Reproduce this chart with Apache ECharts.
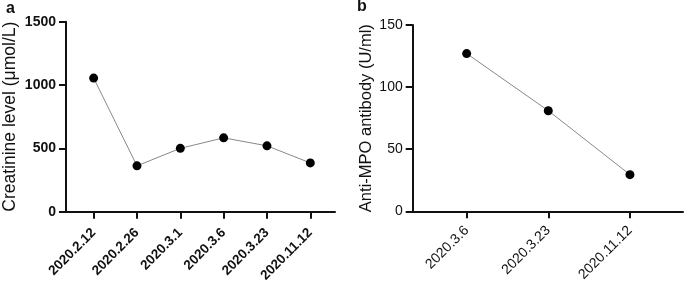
<!DOCTYPE html>
<html><head><meta charset="utf-8">
<script src="https://cdn.jsdelivr.net/npm/echarts@6/dist/echarts.min.js"></script>
<style>html,body{margin:0;padding:0;background:#fff}#c{width:685px;height:285px}</style>
</head><body><div id="c"></div>
<script>
const catsA = ['2020.2.12','2020.2.26','2020.3.1','2020.3.6','2020.3.23','2020.11.12'];
const creatinine = [1055, 362, 500, 583, 520, 385];
const yTicksA = [0, 500, 1000, 1500];
const catsB = ['2020.3.6','2020.3.23','2020.11.12'];
const antiMPO = [127, 81, 29.5];
const yTicksB = [0, 50, 100, 150];

const font = 'Liberation Sans, Arial, sans-serif';
function xAxis(idx, cats, min, max, bold){
  const vals = cats.map((_, i) => i);
  return {
    type:'value', gridIndex: idx, min, max,
    axisLine:{show:true, onZero:false, lineStyle:{color:'#111', width:2}},
    axisTick:{show:true, length:7, customValues: vals, lineStyle:{color:'#111', width:2}},
    splitLine:{show:false},
    axisLabel:{customValues: vals, rotate:45, margin: bold ? 19 : 17, color:'#111', fontFamily:font,
      fontSize: bold ? 13.5 : 14, fontWeight: bold ? 'bold' : 'normal',
      formatter: v => cats[Math.round(v)]}
  };
}
function yAxis(idx, ticks, name, bold){
  return {
    type:'value', gridIndex: idx, min: ticks[0], max: ticks[ticks.length-1],
    interval: ticks[1]-ticks[0],
    name, nameLocation:'middle', nameGap: idx===0 ? 47 : 34,
    nameTextStyle:{color:'#111', fontFamily:font, fontSize: idx===0 ? 17.5 : 16.5},
    axisLine:{show:true, onZero:false, lineStyle:{color:'#111', width:2}},
    axisTick:{show:true, length:7, lineStyle:{color:'#111', width:2}},
    splitLine:{show:false},
    axisLabel:{margin:10, color:'#111', fontFamily:font, fontSize:14, fontWeight: bold ? 'bold':'normal',
      formatter: v => String(v)}
  };
}
const chart = echarts.init(document.getElementById('c'), null, {renderer:'canvas'});
chart.setOption({
  animation:false,
  title:[
    {text:'a', left:1, top:-4, textStyle:{fontFamily:font, fontSize:16, fontWeight:'bold', color:'#111'}},
    {text:'b', left:352, top:-6, textStyle:{fontFamily:font, fontSize:16, fontWeight:'bold', color:'#111'}}
  ],
  grid:[
    {left:62.7, right:350, top:21.7, bottom:73},
    {left:412.7, right:2, top:25, bottom:73.7}
  ],
  xAxis:[ xAxis(0, catsA, -0.638, 5.57, true), xAxis(1, catsB, -0.661, 2.65, false) ],
  yAxis:[ yAxis(0, yTicksA, 'Creatinine level (μmol/L)', true), yAxis(1, yTicksB, 'Anti-MPO antibody (U/ml)', false) ],
  series:[
    {type:'line', xAxisIndex:0, yAxisIndex:0, data: creatinine.map((v,i)=>[i,v]),
      symbol:'circle', symbolSize:9, itemStyle:{color:'#000'}, lineStyle:{color:'#888', width:1}},
    {type:'line', xAxisIndex:1, yAxisIndex:1, data: antiMPO.map((v,i)=>[i,v]),
      symbol:'circle', symbolSize:9, itemStyle:{color:'#000'}, lineStyle:{color:'#888', width:1}}
  ]
});
</script></body></html>
